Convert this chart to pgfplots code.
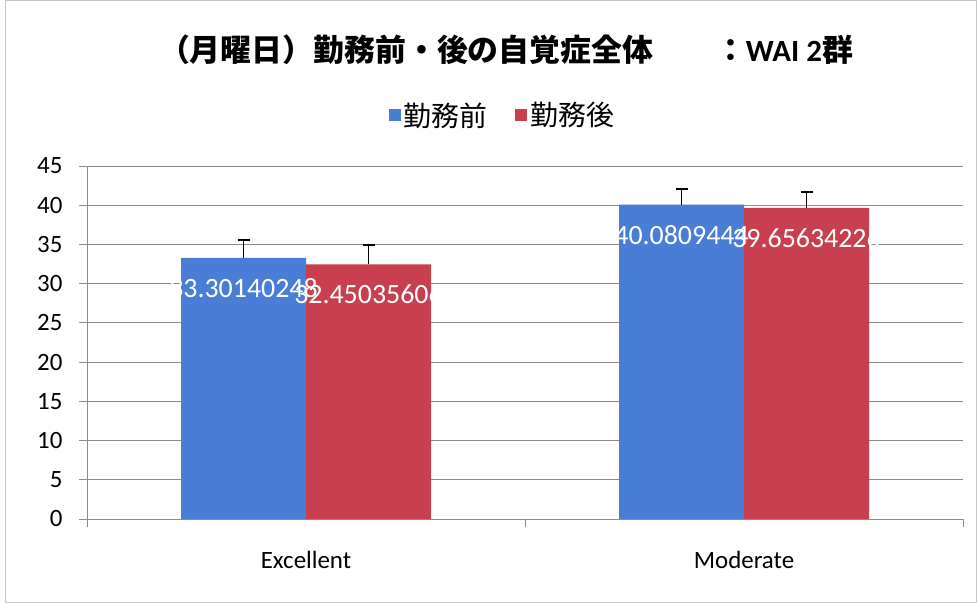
\documentclass[border=0pt]{standalone}
\usepackage{pgfplots}
\pgfplotsset{compat=1.18}
\usepackage{fontspec}
\setmainfont{Carlito}
\newfontfamily\cjk{Noto Sans CJK JP}
\definecolor{barblue}{RGB}{74,126,214}
\definecolor{barred}{RGB}{200,64,80}
\definecolor{gridgray}{RGB}{140,140,140}
\begin{document}
\begin{tikzpicture}
\useasboundingbox (0,0) rectangle (979bp,603bp);
\draw[gray!45, line width=1bp] (5bp,1bp) rectangle (976bp,602bp);
\node[font=\fontsize{31}{34}\selectfont\bfseries] at (506bp,553bp)
  {{\cjk\bfseries （月曜日）勤務前・後の自覚症全体　　：}WAI 2{\cjk\bfseries 群}};
\begin{axis}[
  at={(87bp,84bp)}, anchor=south west,
  scale only axis, width=876bp, height=353bp,
  xmin=-0.5, xmax=1.5, ymin=0, ymax=45,
  ytick={0,5,...,45},
  xtick={-0.5,0.5,1.5}, xticklabels={},
  extra x ticks={0,1}, extra x tick labels={Excellent,Moderate},
  extra x tick style={major tick length=0pt, grid=none,
     tick label style={yshift=-29bp}},
  axis x line*=bottom, axis y line*=left,
  axis line style={gridgray, line width=0.9bp},
  ymajorgrids, grid style={gridgray, line width=0.8bp},
  tick align=outside, major tick length=8bp,
  tick style={gridgray, line width=0.9bp},
  /pgf/number format/assume math mode=true,
  ticklabel style={font=\fontsize{25}{28}\selectfont, text=black},
  yticklabel style={xshift=-13bp},
  ybar, bar width=125bp,
  legend style={at={(0.474,1.1445)}, anchor=center, draw=none, fill=none,
     font=\cjk\fontsize{28}{30}\selectfont, legend columns=2,
     /tikz/every even column/.append style={column sep=26bp},
     /tikz/every odd column/.append style={column sep=1bp}},
  legend image code/.code={\fill[#1,draw=none] (0bp,-6bp) rectangle (12bp,6bp);},
]
\addplot[fill=barblue, draw=none, bar shift=-62.5bp,
  error bars/.cd, y dir=plus, y explicit,
  error bar style={black, line width=1.6bp},
  error mark options={rotate=90, black, mark size=6bp, line width=1.6bp}]
  coordinates {(0,33.30140248) +- (0,2.3) (1,40.0809444) +- (0,2.0)};
\addlegendentry{勤務前}
\addplot[fill=barred, draw=none, bar shift=62.5bp,
  error bars/.cd, y dir=plus, y explicit,
  error bar style={black, line width=1.6bp},
  error mark options={rotate=90, black, mark size=6bp, line width=1.6bp}]
  coordinates {(0,32.45035606) +- (0,2.45) (1,39.65634226) +- (0,2.05)};
\addlegendentry{勤務後}
\addplot[forget plot, draw=none, fill=none, bar shift=-62.5bp,
  nodes near coords, point meta=explicit symbolic,
  every node near coord/.append style={text=white, anchor=center, yshift=-30bp,
     font=\fontsize{28}{30}\selectfont}]
  coordinates {(0,33.30140248) [33.30140248] (1,40.0809444) [40.0809444]};
\addplot[forget plot, draw=none, fill=none, bar shift=62.5bp,
  nodes near coords, point meta=explicit symbolic,
  every node near coord/.append style={text=white, anchor=center, yshift=-30bp,
     font=\fontsize{28}{30}\selectfont}]
  coordinates {(0,32.45035606) [32.45035606] (1,39.65634226) [39.65634226]};
\end{axis}
\end{tikzpicture}
\end{document}
